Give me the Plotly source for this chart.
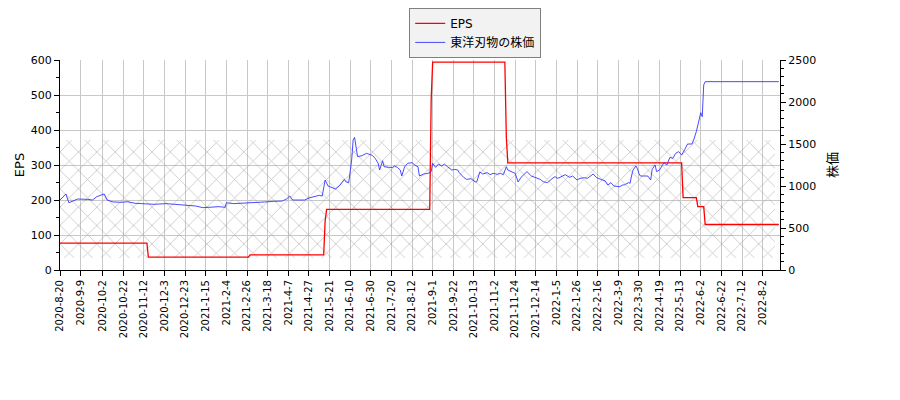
import plotly.graph_objects as go

# EPS (step values, red line)
eps_dates = ["2020-08-20", "2020-11-16", "2020-11-17", "2021-03-01", "2021-03-02",
             "2021-05-17", "2021-05-18", "2021-05-19", "2021-08-30", "2021-08-31",
             "2021-09-01", "2021-11-12", "2021-11-15", "2021-11-16", "2022-05-16",
             "2022-05-17", "2022-05-30", "2022-05-31", "2022-06-06", "2022-06-07",
             "2022-08-18"]
eps_values = [77, 77, 37, 37, 43, 43, 140, 173, 173, 489, 594, 594, 380, 306, 306,
              207, 207, 181, 181, 130, 130]

# 株価 (blue line)
price_dates = [
    "2020-08-20", "2020-08-26", "2020-08-28", "2020-09-02", "2020-09-07", "2020-09-16",
    "2020-09-23", "2020-09-28", "2020-10-05", "2020-10-07", "2020-10-13", "2020-10-21",
    "2020-10-27", "2020-11-04", "2020-11-13", "2020-11-24", "2020-12-04", "2020-12-15",
    "2020-12-24", "2021-01-05", "2021-01-13", "2021-01-19", "2021-01-28", "2021-02-03",
    "2021-02-04", "2021-02-12", "2021-02-22", "2021-03-02", "2021-03-05", "2021-03-16",
    "2021-03-24", "2021-04-01", "2021-04-06", "2021-04-08", "2021-04-12", "2021-04-22",
    "2021-04-27", "2021-04-30", "2021-05-12", "2021-05-14", "2021-05-18", "2021-05-20",
    "2021-05-27", "2021-06-01", "2021-06-04", "2021-06-07", "2021-06-09", "2021-06-11",
    "2021-06-14", "2021-06-15", "2021-06-16", "2021-06-17", "2021-06-22", "2021-06-25",
    "2021-07-01", "2021-07-05", "2021-07-07", "2021-07-08", "2021-07-12", "2021-07-13",
    "2021-07-16", "2021-07-21", "2021-07-26", "2021-07-28", "2021-07-30", "2021-08-02",
    "2021-08-04", "2021-08-06", "2021-08-12", "2021-08-16", "2021-08-18", "2021-08-19",
    "2021-08-24", "2021-08-27", "2021-08-31", "2021-09-01", "2021-09-03", "2021-09-07",
    "2021-09-09", "2021-09-13", "2021-09-15", "2021-09-21", "2021-09-24", "2021-09-28",
    "2021-09-29", "2021-10-04", "2021-10-06", "2021-10-11", "2021-10-14", "2021-10-15",
    "2021-10-19", "2021-10-21", "2021-10-26", "2021-10-28", "2021-11-01", "2021-11-05",
    "2021-11-09", "2021-11-11", "2021-11-15", "2021-11-16", "2021-11-24", "2021-11-26",
    "2021-11-30", "2021-12-03", "2021-12-06", "2021-12-09", "2021-12-14", "2021-12-17",
    "2021-12-21", "2021-12-24", "2021-12-29", "2022-01-04", "2022-01-06", "2022-01-12",
    "2022-01-14", "2022-01-19", "2022-01-21", "2022-01-26", "2022-01-28", "2022-02-02",
    "2022-02-04", "2022-02-10", "2022-02-15", "2022-02-18", "2022-02-24", "2022-02-28",
    "2022-03-02", "2022-03-04", "2022-03-10", "2022-03-14", "2022-03-15", "2022-03-18",
    "2022-03-22", "2022-03-23", "2022-03-24", "2022-03-28", "2022-03-29", "2022-03-30",
    "2022-03-31", "2022-04-04", "2022-04-07", "2022-04-11", "2022-04-12", "2022-04-14",
    "2022-04-15", "2022-04-19", "2022-04-22", "2022-04-26", "2022-04-28", "2022-05-06",
    "2022-05-10", "2022-05-12", "2022-05-16", "2022-05-18", "2022-05-20", "2022-05-25",
    "2022-05-26", "2022-05-30", "2022-06-01", "2022-06-02", "2022-06-03", "2022-06-06",
    "2022-06-07", "2022-08-18"]
price_values = [
    833, 905, 801, 825, 845, 841, 833, 873, 905, 833, 810, 806,
    813, 794, 790, 782, 790, 778, 770, 762, 742, 746, 754, 746,
    801, 790, 794, 801, 798, 810, 817, 821, 849, 881, 833, 833,
    857, 865, 889, 881, 1071, 1000, 964, 1008, 1079, 1051, 1040, 1310,
    1548, 1579, 1448, 1349, 1361, 1389, 1365, 1329, 1270, 1190, 1301, 1230,
    1222, 1222, 1238, 1222, 1190, 1119, 1230, 1270, 1278, 1246, 1230, 1119,
    1143, 1151, 1171, 1270, 1222, 1262, 1238, 1262, 1230, 1190, 1198, 1190,
    1159, 1103, 1079, 1087, 1048, 1051, 1167, 1143, 1159, 1135, 1151, 1139,
    1151, 1135, 1230, 1190, 1151, 1048, 1103, 1151, 1171, 1119, 1103, 1079,
    1051, 1040, 1087, 1111, 1091, 1119, 1135, 1103, 1119, 1071, 1091, 1099,
    1091, 1143, 1103, 1079, 1063, 1012, 1040, 1000, 992, 1012, 1012, 1040,
    1032, 1119, 1190, 1238, 1206, 1151, 1119, 1119, 1119, 1071, 1198, 1250,
    1171, 1190, 1278, 1250, 1341, 1329, 1389, 1409, 1369, 1429, 1500, 1500,
    1539, 1647, 1806, 1873, 1825, 2202, 2242, 2242]

tick_dates = ["2020-08-20", "2020-09-09", "2020-10-02", "2020-10-22", "2020-11-12",
              "2020-12-03", "2020-12-23", "2021-01-15", "2021-02-04", "2021-02-26",
              "2021-03-18", "2021-04-07", "2021-04-27", "2021-05-21", "2021-06-10",
              "2021-06-30", "2021-07-20", "2021-08-12", "2021-09-01", "2021-09-22",
              "2021-10-13", "2021-11-02", "2021-11-24", "2021-12-14", "2022-01-05",
              "2022-01-26", "2022-02-16", "2022-03-09", "2022-03-30", "2022-04-19",
              "2022-05-13", "2022-06-02", "2022-06-22", "2022-07-12", "2022-08-02"]
tick_labels = [d[:4] + "-" + str(int(d[5:7])) + "-" + str(int(d[8:10])) for d in tick_dates]

# market holidays (weekdays with no trading)
holidays = ["2020-09-21", "2020-09-22", "2020-11-03", "2020-11-23", "2020-12-31",
            "2021-01-01", "2021-01-11", "2021-02-11", "2021-02-23", "2021-04-29",
            "2021-05-03", "2021-05-04", "2021-05-05", "2021-07-22", "2021-07-23",
            "2021-08-09", "2021-09-20", "2021-09-23", "2021-11-03", "2021-11-23",
            "2021-12-31", "2022-01-03", "2022-01-10", "2022-02-11", "2022-02-23",
            "2022-03-21", "2022-04-29", "2022-05-03", "2022-05-04", "2022-05-05",
            "2022-07-18", "2022-08-11"]

font = "DejaVu Sans, Noto Sans CJK JP"

fig = go.Figure()

# cross-hatched backdrop
fig.add_trace(go.Scatter(x=[0, 0.993, 0.993, 0, 0], y=[0.057, 0.057, 0.619, 0.619, 0.057],
                         xaxis="x", yaxis="y", mode="lines", line=dict(width=0),
                         fill="toself", fillcolor="rgba(0,0,0,0)",
                         fillpattern=dict(shape="x", size=13, solidity=0.12,
                                          fgcolor="#888888", bgcolor="rgba(0,0,0,0)"),
                         showlegend=False, hoverinfo="skip"))

fig.add_trace(go.Scatter(x=eps_dates, y=eps_values, name="EPS", mode="lines",
                         line=dict(color="#ff0000", width=1.3), xaxis="x2", yaxis="y2"))
fig.add_trace(go.Scatter(x=price_dates, y=price_values, name="東洋刃物の株価", mode="lines",
                         line=dict(color="#3535ff", width=0.9), xaxis="x2", yaxis="y3"))

# page adds an 8px body margin, so the figure is a little smaller than the window
fig.update_layout(
    width=892, height=392,
    margin=dict(l=52, r=120, t=52, b=130, autoexpand=False),
    paper_bgcolor="white", plot_bgcolor="white",
    font=dict(family=font, size=11, color="black"),
    xaxis=dict(range=[0, 1], visible=False, fixedrange=True),
    yaxis=dict(range=[0, 1], visible=False, fixedrange=True),
    xaxis2=dict(overlaying="x", anchor="y", side="bottom", type="date",
                range=["2020-08-20", "2022-08-18 19:00"],
                rangebreaks=[dict(bounds=["sat", "mon"]), dict(values=holidays)],
                tickvals=tick_dates, ticktext=tick_labels, tickangle=-90,
                tickfont=dict(size=10), ticks="outside", ticklen=5, tickcolor="black",
                showline=True, linecolor="black", linewidth=1,
                showgrid=True, gridcolor="#c8c8c8", gridwidth=1, automargin=False),
    yaxis2=dict(overlaying="y", anchor="x", side="left", range=[0, 600], dtick=100,
                ticks="outside", ticklen=5, tickcolor="black",
                minor=dict(dtick=50, ticks="outside", ticklen=3, tickcolor="black", showgrid=False),
                showline=True, linecolor="black", linewidth=1,
                showgrid=True, gridcolor="#c8c8c8", gridwidth=1, zeroline=False,
                title=dict(text="EPS", standoff=3), automargin=False),
    yaxis3=dict(overlaying="y", anchor="x", side="right", range=[0, 2500], dtick=500,
                ticks="outside", ticklen=5, tickcolor="black",
                minor=dict(dtick=100, ticks="outside", ticklen=3, tickcolor="black", showgrid=False),
                showline=True, linecolor="black", linewidth=1,
                showgrid=False, zeroline=False,
                title=dict(text="株価", standoff=12), automargin=False),
    legend=dict(x=0.485, y=1.248, xanchor="left", yanchor="top",
                bgcolor="#f2f2f2", bordercolor="#808080", borderwidth=1,
                font=dict(size=12), tracegroupgap=0, itemwidth=30),
)

fig.write_html("out.html")
